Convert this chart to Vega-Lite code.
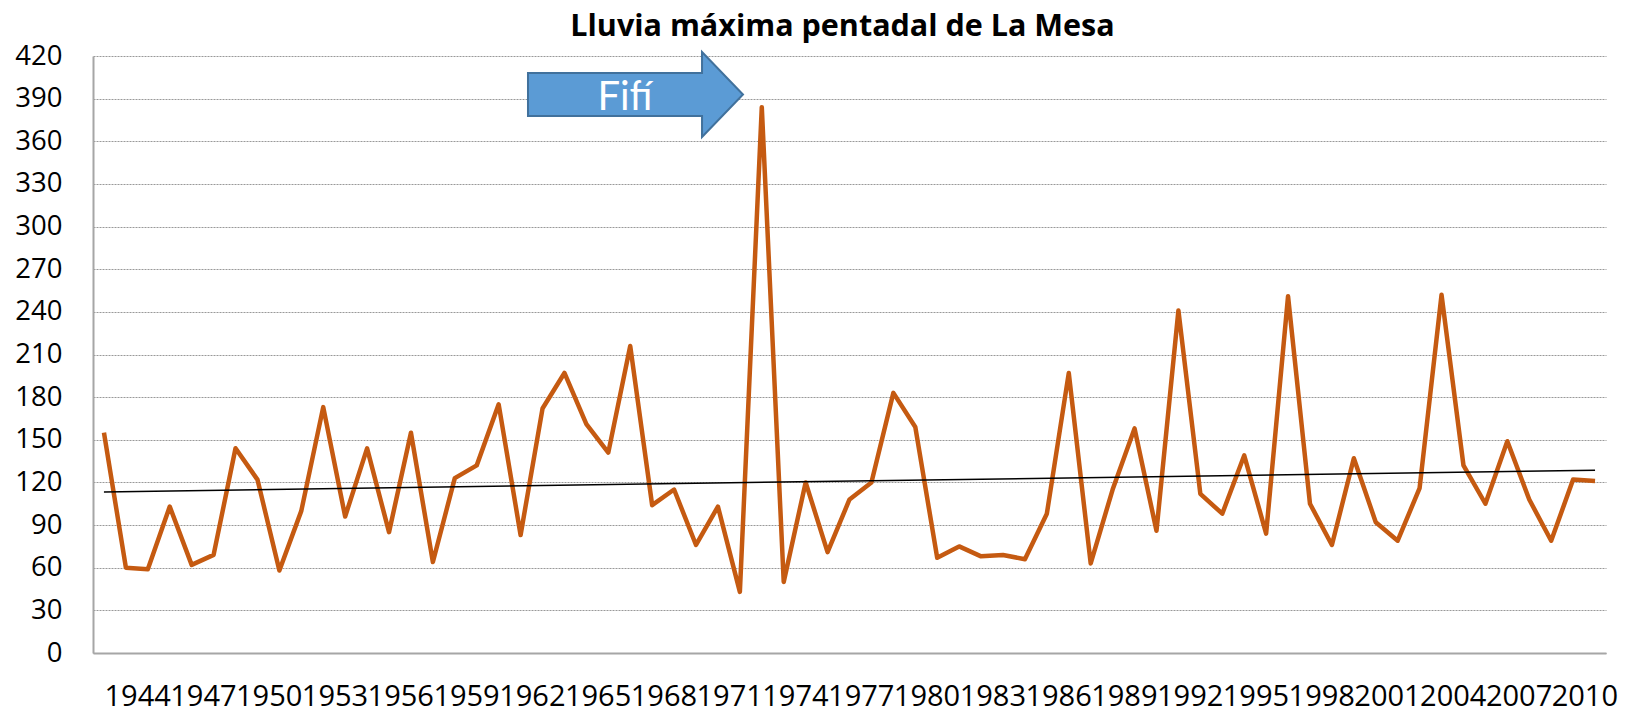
{
  "$schema": "https://vega.github.io/schema/vega-lite/v6.json",
  "width": 1513,
  "height": 597,
  "autosize": {"type": "none"},
  "padding": {"left": 93, "top": 56, "right": 31, "bottom": 59},
  "background": "#ffffff",
  "title": {
    "text": "Lluvia máxima pentadal de La Mesa",
    "font": "Open Sans",
    "fontSize": 30.5,
    "fontWeight": "bold",
    "color": "#000000",
    "anchor": "middle",
    "frame": "group",
    "baseline": "alphabetic",
    "offset": -24,
    "dx": -7
  },
  "config": {
    "view": {"stroke": null},
    "font": "Open Sans"
  },
  "data": {
    "values": [
      {"anio": 1944, "lluvia": 155}, {"anio": 1945, "lluvia": 60}, {"anio": 1946, "lluvia": 59},
      {"anio": 1947, "lluvia": 103}, {"anio": 1948, "lluvia": 62}, {"anio": 1949, "lluvia": 69},
      {"anio": 1950, "lluvia": 144}, {"anio": 1951, "lluvia": 122}, {"anio": 1952, "lluvia": 58},
      {"anio": 1953, "lluvia": 100}, {"anio": 1954, "lluvia": 173}, {"anio": 1955, "lluvia": 96},
      {"anio": 1956, "lluvia": 144}, {"anio": 1957, "lluvia": 85}, {"anio": 1958, "lluvia": 155},
      {"anio": 1959, "lluvia": 64}, {"anio": 1960, "lluvia": 123}, {"anio": 1961, "lluvia": 132},
      {"anio": 1962, "lluvia": 175}, {"anio": 1963, "lluvia": 83}, {"anio": 1964, "lluvia": 172},
      {"anio": 1965, "lluvia": 197}, {"anio": 1966, "lluvia": 161}, {"anio": 1967, "lluvia": 141},
      {"anio": 1968, "lluvia": 216}, {"anio": 1969, "lluvia": 104}, {"anio": 1970, "lluvia": 115},
      {"anio": 1971, "lluvia": 76}, {"anio": 1972, "lluvia": 103}, {"anio": 1973, "lluvia": 43},
      {"anio": 1974, "lluvia": 384}, {"anio": 1975, "lluvia": 50}, {"anio": 1976, "lluvia": 120},
      {"anio": 1977, "lluvia": 71}, {"anio": 1978, "lluvia": 108}, {"anio": 1979, "lluvia": 120},
      {"anio": 1980, "lluvia": 183}, {"anio": 1981, "lluvia": 159}, {"anio": 1982, "lluvia": 67},
      {"anio": 1983, "lluvia": 75}, {"anio": 1984, "lluvia": 68}, {"anio": 1985, "lluvia": 69},
      {"anio": 1986, "lluvia": 66}, {"anio": 1987, "lluvia": 98}, {"anio": 1988, "lluvia": 197},
      {"anio": 1989, "lluvia": 63}, {"anio": 1990, "lluvia": 115}, {"anio": 1991, "lluvia": 158},
      {"anio": 1992, "lluvia": 86}, {"anio": 1993, "lluvia": 241}, {"anio": 1994, "lluvia": 112},
      {"anio": 1995, "lluvia": 98}, {"anio": 1996, "lluvia": 139}, {"anio": 1997, "lluvia": 84},
      {"anio": 1998, "lluvia": 251}, {"anio": 1999, "lluvia": 105}, {"anio": 2000, "lluvia": 76},
      {"anio": 2001, "lluvia": 137}, {"anio": 2002, "lluvia": 92}, {"anio": 2003, "lluvia": 79},
      {"anio": 2004, "lluvia": 116}, {"anio": 2005, "lluvia": 252}, {"anio": 2006, "lluvia": 132},
      {"anio": 2007, "lluvia": 105}, {"anio": 2008, "lluvia": 149}, {"anio": 2009, "lluvia": 108},
      {"anio": 2010, "lluvia": 79}, {"anio": 2011, "lluvia": 122}, {"anio": 2012, "lluvia": 121}
    ]
  },
  "layer": [
    {
      "mark": {"type": "line", "color": "#C55A11", "strokeWidth": 4.5, "strokeJoin": "round"},
      "encoding": {
        "x": {
          "field": "anio",
          "type": "quantitative",
          "scale": {"domain": [1943.5, 2012.5], "nice": false, "zero": false},
          "axis": {
            "title": null,
            "values": [1944, 1947, 1950, 1953, 1956, 1959, 1962, 1965, 1968, 1971, 1974, 1977, 1980, 1983, 1986, 1989, 1992, 1995, 1998, 2001, 2004, 2007, 2010],
            "format": "d",
            "labelAlign": "left",
            "labelFont": "Open Sans",
            "labelFontSize": 29,
            "labelColor": "#000000",
            "labelPadding": 29,
            "labelOverlap": false,
            "labelFlush": false,
            "ticks": false,
            "grid": false,
            "domainColor": "#A6A6A6",
            "domainWidth": 2
          }
        },
        "y": {
          "field": "lluvia",
          "type": "quantitative",
          "scale": {"domain": [0, 420], "nice": false},
          "axis": {
            "title": null,
            "values": [0, 30, 60, 90, 120, 150, 180, 210, 240, 270, 300, 330, 360, 390, 420],
            "labelFont": "Open Sans",
            "labelFontSize": 27.5,
            "labelColor": "#000000",
            "labelPadding": 31,
            "labelOverlap": false,
            "labelFlush": false,
            "ticks": false,
            "grid": true,
            "gridColor": "#999999",
            "gridDash": [2, 1],
            "gridWidth": 1,
            "domainColor": "#A6A6A6",
            "domainWidth": 2
          }
        }
      }
    },
    {
      "transform": [{"regression": "lluvia", "on": "anio", "extent": [1944, 2012]}],
      "mark": {"type": "line", "color": "#000000", "strokeWidth": 1.5},
      "encoding": {
        "x": {"field": "anio", "type": "quantitative"},
        "y": {"field": "lluvia", "type": "quantitative"}
      }
    },
    {
      "data": {"values": [{"label": "Fifí"}]},
      "mark": {
        "type": "point",
        "shape": "M -1 -0.2 L 0.619 -0.2 L 0.619 -0.395 L 1 0 L 0.619 0.395 L 0.619 0.2 L -1 0.2 Z",
        "size": 46225,
        "filled": true,
        "fill": "#5B9BD5",
        "stroke": "#41719C",
        "strokeWidth": 2,
        "opacity": 1,
        "fillOpacity": 1,
        "strokeOpacity": 1
      },
      "encoding": {
        "x": {"datum": 1968.24},
        "y": {"datum": 392.9}
      }
    },
    {
      "data": {"values": [{"label": "Fifí"}]},
      "mark": {"type": "text", "font": "Lato", "fontSize": 40, "color": "#ffffff", "align": "center", "baseline": "alphabetic"},
      "encoding": {
        "x": {"datum": 1967.76},
        "y": {"datum": 382.0},
        "text": {"field": "label"}
      }
    }
  ]
}
